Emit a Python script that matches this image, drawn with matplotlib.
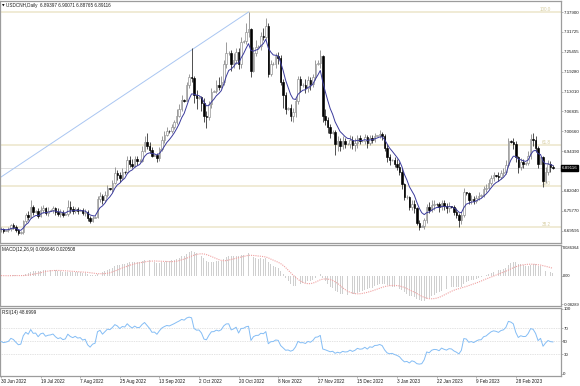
import numpy as np
import pandas as pd
import matplotlib
matplotlib.use('Agg')
import matplotlib.pyplot as plt

plt.rcParams['font.family'] = ['Liberation Sans', 'DejaVu Sans']

# daily bars, Sun-Fri (no Saturday), 30 Jun 2022 .. 17 Mar 2023
closes = [6.700, 6.695,
          6.697, 6.700, 6.712, 6.708, 6.698, 6.688,
          6.690, 6.725, 6.745, 6.738, 6.770, 6.755,
          6.757, 6.742, 6.760, 6.765, 6.752, 6.758,
          6.760, 6.765, 6.755, 6.748, 6.752, 6.745,
          6.748, 6.770, 6.762, 6.758, 6.764, 6.758,
          6.760, 6.752, 6.755, 6.735, 6.725, 6.735,
          6.738, 6.795, 6.805, 6.790, 6.808, 6.828,
          6.826, 6.845, 6.875, 6.870, 6.860, 6.880,
          6.878, 6.915, 6.905, 6.898, 6.918, 6.912,
          6.914, 6.945, 6.972, 6.960, 6.948, 6.930,
          6.932, 6.922, 6.950, 6.978, 6.995, 7.008,
          7.006, 7.020, 7.035, 7.055, 7.075, 7.105,
          7.102, 7.150, 7.175, 7.172, 7.120, 7.110,
          7.112, 7.095, 7.055, 7.050, 7.090, 7.130,
          7.132, 7.150, 7.145, 7.160, 7.215, 7.250,
          7.252, 7.215, 7.230, 7.255, 7.215, 7.285,
          7.288, 7.315, 7.325, 7.195, 7.250, 7.270,
          7.272, 7.305, 7.300, 7.335, 7.185, 7.215,
          7.218, 7.240, 7.235, 7.160, 7.120, 7.075,
          7.078, 7.055, 7.065, 7.100, 7.170, 7.150,
          7.152, 7.140, 7.165, 7.155, 7.175, 7.215,
          7.220, 7.240, 7.055, 7.040, 7.020, 7.000,
          7.005, 6.965, 6.975, 6.960, 6.975, 6.965,
          6.967, 6.980, 6.962, 6.970, 6.985, 6.975,
          6.977, 6.988, 6.970, 6.985, 6.980, 6.992,
          6.993, 6.998, 6.990, 6.955, 6.925, 6.915,
          6.917, 6.905, 6.895, 6.880, 6.840, 6.800,
          6.802, 6.770, 6.780, 6.765, 6.720, 6.708,
          6.710, 6.728, 6.770, 6.760, 6.775, 6.780,
          6.778, 6.768, 6.782, 6.772, 6.765, 6.772,
          6.770, 6.755, 6.745, 6.730, 6.745, 6.815,
          6.812, 6.790, 6.795, 6.788, 6.798, 6.805,
          6.806, 6.825, 6.830, 6.845, 6.860, 6.868,
          6.866, 6.862, 6.875, 6.880, 6.900, 6.975,
          6.972, 6.965, 6.925, 6.895, 6.910, 6.905,
          6.906, 6.930, 6.982, 6.978, 6.955, 6.905,
          6.925, 6.850, 6.880, 6.905, 6.894, 6.89116]

highs = [6.706, 6.705,
         6.699, 6.708, 6.716, 6.718, 6.712, 6.702,
         6.693, 6.730, 6.752, 6.758, 6.790, 6.775,
         6.760, 6.765, 6.772, 6.775, 6.770, 6.768,
         6.762, 6.772, 6.770, 6.765, 6.762, 6.760,
         6.750, 6.790, 6.788, 6.772, 6.770, 6.768,
         6.763, 6.765, 6.762, 6.760, 6.742, 6.742,
         6.740, 6.805, 6.816, 6.810, 6.820, 6.838,
         6.830, 6.855, 6.895, 6.885, 6.880, 6.890,
         6.882, 6.930, 6.928, 6.920, 6.930, 6.928,
         6.918, 6.960, 6.990, 7.000, 6.972, 6.958,
         6.935, 6.938, 6.958, 6.990, 7.008, 7.018,
         7.010, 7.030, 7.042, 7.075, 7.090, 7.120,
         7.108, 7.160, 7.185, 7.268, 7.180, 7.135,
         7.116, 7.115, 7.110, 7.070, 7.100, 7.140,
         7.136, 7.165, 7.175, 7.180, 7.230, 7.285,
         7.256, 7.260, 7.250, 7.265, 7.268, 7.300,
         7.292, 7.345, 7.379, 7.330, 7.270, 7.290,
         7.276, 7.315, 7.330, 7.360, 7.345, 7.230,
         7.222, 7.250, 7.255, 7.245, 7.170, 7.130,
         7.082, 7.090, 7.080, 7.110, 7.180, 7.178,
         7.156, 7.170, 7.180, 7.175, 7.185, 7.230,
         7.228, 7.260, 7.245, 7.075, 7.050, 7.030,
         7.010, 7.010, 6.990, 6.985, 6.990, 6.985,
         6.970, 6.995, 6.990, 6.985, 6.995, 6.995,
         6.980, 6.998, 6.995, 6.995, 6.995, 7.000,
         6.996, 7.010, 7.005, 6.998, 6.965, 6.935,
         6.920, 6.925, 6.920, 6.910, 6.890, 6.845,
         6.806, 6.805, 6.792, 6.790, 6.770, 6.728,
         6.714, 6.735, 6.778, 6.785, 6.790, 6.792,
         6.782, 6.785, 6.790, 6.790, 6.782, 6.785,
         6.774, 6.775, 6.765, 6.752, 6.755, 6.829,
         6.816, 6.815, 6.808, 6.805, 6.808, 6.815,
         6.810, 6.835, 6.842, 6.858, 6.870, 6.880,
         6.870, 6.878, 6.885, 6.890, 6.915, 6.985,
         6.978, 6.985, 6.975, 6.930, 6.922, 6.920,
         6.910, 6.945, 6.998, 7.000, 6.990, 6.960,
         6.930, 6.930, 6.895, 6.915, 6.912, 6.90071]

lows = [6.690, 6.688,
        6.693, 6.690, 6.695, 6.700, 6.692, 6.682,
        6.686, 6.686, 6.718, 6.728, 6.735, 6.745,
        6.752, 6.735, 6.738, 6.750, 6.745, 6.742,
        6.756, 6.750, 6.745, 6.740, 6.738, 6.738,
        6.744, 6.742, 6.752, 6.748, 6.750, 6.748,
        6.756, 6.745, 6.742, 6.725, 6.718, 6.722,
        6.734, 6.735, 6.785, 6.780, 6.785, 6.800,
        6.822, 6.815, 6.840, 6.855, 6.848, 6.855,
        6.874, 6.875, 6.895, 6.890, 6.895, 6.900,
        6.910, 6.910, 6.940, 6.950, 6.938, 6.925,
        6.928, 6.910, 6.912, 6.945, 6.970, 6.990,
        7.002, 7.000, 7.012, 7.030, 7.050, 7.070,
        7.098, 7.100, 7.140, 7.160, 7.095, 7.075,
        7.106, 7.070, 7.035, 7.016, 7.040, 7.080,
        7.128, 7.125, 7.135, 7.140, 7.150, 7.205,
        7.246, 7.195, 7.205, 7.215, 7.200, 7.205,
        7.282, 7.280, 7.300, 7.176, 7.190, 7.240,
        7.266, 7.260, 7.290, 7.295, 7.176, 7.180,
        7.212, 7.205, 7.215, 7.150, 7.080, 7.060,
        7.072, 7.038, 7.035, 7.050, 7.090, 7.130,
        7.146, 7.125, 7.130, 7.135, 7.145, 7.165,
        7.212, 7.205, 7.035, 7.025, 7.000, 6.985,
        6.998, 6.932, 6.945, 6.945, 6.950, 6.955,
        6.963, 6.955, 6.950, 6.945, 6.955, 6.965,
        6.973, 6.965, 6.955, 6.962, 6.968, 6.972,
        6.990, 6.985, 6.978, 6.945, 6.910, 6.902,
        6.912, 6.895, 6.885, 6.870, 6.825, 6.790,
        6.796, 6.760, 6.760, 6.750, 6.712, 6.697,
        6.706, 6.700, 6.720, 6.750, 6.755, 6.760,
        6.774, 6.755, 6.760, 6.760, 6.752, 6.755,
        6.766, 6.745, 6.735, 6.707, 6.715, 6.738,
        6.806, 6.780, 6.780, 6.778, 6.782, 6.790,
        6.802, 6.800, 6.815, 6.825, 6.838, 6.850,
        6.862, 6.852, 6.858, 6.865, 6.872, 6.895,
        6.968, 6.950, 6.910, 6.876, 6.885, 6.890,
        6.902, 6.900, 6.920, 6.960, 6.940, 6.890,
        6.905, 6.832, 6.845, 6.870, 6.880, 6.88765]

date_labels = ['30 Jun 2022', '19 Jul 2022', '7 Aug 2022', '25 Aug 2022',
               '13 Sep 2022', '2 Oct 2022', '20 Oct 2022', '8 Nov 2022',
               '27 Nov 2022', '15 Dec 2022', '3 Jan 2023', '22 Jan 2023',
               '9 Feb 2023', '28 Feb 2023']
bars_per_label = 16

price_ticks = [7.37900, 7.31725, 7.25455, 7.19280, 7.13010, 7.06835, 7.00660,
               6.94390, 6.88215, 6.82040, 6.75770, 6.69595]
fib_low, fib_high = 6.291, 7.379
fib_levels = [100.0, 61.8, 50.0, 38.2]
trend_start = (-1, 6.858)      # (bar, price)
trend_end = (100, 7.379)
last_price = 6.89116
title = 'USDCNH,Daily  6.89397 6.90071 6.88765 6.89116'
macd_label = 'MACD(12,26,9) 0.006646 0.020508'
rsi_label = 'RSI(14) 48.6999'
macd_ticks = [0.086364, 0.0, -0.08289]
macd_tick_labels = ['0.086364', '0.00', '-0.08289']
rsi_ticks = [100, 70, 50, 30, 0]

# ---- indicators ----
c = pd.Series(closes)
opens = np.array([closes[0]] + closes[:-1])
closes_a = c.values
highs_a = np.array(highs)
lows_a = np.array(lows)
n = len(closes)
x = np.arange(n)

ma = c.ewm(span=7, adjust=False).mean()
macd_main = c.ewm(span=12, adjust=False).mean() - c.ewm(span=26, adjust=False).mean()
macd_sig = macd_main.rolling(9, min_periods=1).mean()

# Wilder RSI(14), seeded neutral so the line starts near 50
d = np.diff(closes_a, prepend=closes_a[0])
seed = np.abs(d[1:15]).mean() / 2
ag, al = seed, seed
rsi = np.empty(n)
for i in range(n):
    ag = (ag * 13 + max(d[i], 0)) / 14
    al = (al * 13 + max(-d[i], 0)) / 14
    rsi[i] = 100 - 100 / (1 + ag / al)

# ---- layout (pixel geometry of the 580x386 screenshot) ----
W, H = 580, 386
fig = plt.figure(figsize=(W / 100, H / 100), dpi=100)
right = 561 / W


def axes_px(top, bottom):
    return fig.add_axes([0.0, 1 - bottom / H, right, (bottom - top) / H])


ax = axes_px(1, 243)
ax_m = axes_px(245, 306)
ax_r = axes_px(308, 376)

px_per_bar = 2.475
xlim = (-1 / px_per_bar, 560 / px_per_bar)
FS = 3.3
FS_Y = 3.2
GRID = '#9c9c9c'
TXT = '#1a1a1a'

for a in (ax, ax_m, ax_r):
    a.set_xlim(*xlim)
    a.set_facecolor('white')
    for s in a.spines.values():
        s.set_color(GRID)
        s.set_linewidth(0.9)
    a.yaxis.tick_right()
    a.tick_params(axis='y', length=1.2, width=0.5, pad=0.5, labelsize=FS_Y,
                  color=GRID, labelcolor=TXT)
    a.set_xticks([])

# main price panel
ax.set_ylim(6.6569, 7.4134)
fib_prices = [fib_low + p / 100 * (fib_high - fib_low) for p in fib_levels]
for p, lvl in zip(fib_prices, fib_levels):
    ax.axhline(p, color='#efe9d2', lw=1.3, zorder=1)
    ax.text(xlim[1] - 4, p, f'{lvl:.1f}', color='#d6cda0', fontsize=FS,
            ha='right', va='bottom', zorder=2)
ax.axhline(last_price, color='#d8d8d8', lw=0.6, zorder=1)
ax.plot([trend_start[0], trend_end[0]], [trend_start[1], trend_end[1]],
        color='#a9c6f2', lw=0.7, zorder=2)

up = closes_a >= opens
ax.vlines(x[up], lows_a[up], highs_a[up], color='#8a8a8a', lw=0.6, zorder=3)
ax.vlines(x[~up], lows_a[~up], highs_a[~up], color='#333333', lw=0.6, zorder=3)
ax.bar(x[up], closes_a[up] - opens[up], bottom=opens[up], width=0.62,
       facecolor='white', edgecolor='#8a8a8a', lw=0.45, zorder=4)
ax.bar(x[~up], closes_a[~up] - opens[~up], bottom=opens[~up], width=0.62,
       facecolor='black', edgecolor='black', lw=0.45, zorder=4)
ax.plot(x, ma, color='#3a3a9c', lw=0.7, zorder=5)

ax.set_yticks(price_ticks, [f'{p:.5f}' for p in price_ticks])
ax.text(1.001, last_price, f'{last_price:.5f}', transform=ax.get_yaxis_transform(),
        color='white', fontsize=FS_Y, va='center', ha='left', zorder=10,
        bbox=dict(facecolor='black', edgecolor='black', pad=0.6), clip_on=False)
ax.text(2 / 561, 1 - 3 / 242, '\u25bc', transform=ax.transAxes, fontsize=2.4,
        va='top', ha='left', color='black', family='DejaVu Sans')
ax.text(6 / 561, 1 - 1.5 / 242, title, transform=ax.transAxes, fontsize=FS,
        va='top', ha='left', color=TXT)

# MACD panel
ax_m.set_ylim(-0.0886, 0.0892)
ax_m.bar(x, macd_main, width=0.38, color='#cfcfcf', zorder=2)
ax_m.plot(x, macd_sig, color='#f0a0a0', lw=0.8, ls=(0, (1, 1)), zorder=3)
ax_m.set_yticks(macd_ticks, macd_tick_labels)
ax_m.tick_params(axis='y', labelsize=2.9)
ax_m.get_yticklabels()[0].set_va('top')
ax_m.text(2 / 561, 0.97, macd_label, transform=ax_m.transAxes, fontsize=FS,
          va='top', ha='left', color=TXT)

# RSI panel
ax_r.set_ylim(-3.1, 101.5)
for lvl in (70, 50, 30):
    ax_r.axhline(lvl, color='#c8c8c8', lw=0.5, ls=(0, (1, 1.5)), zorder=1)
ax_r.plot(x, rsi, color='#84bdf5', lw=0.7, zorder=3)
ax_r.set_yticks(rsi_ticks, [str(v) for v in rsi_ticks])
ax_r.text(2 / 561, 0.975, rsi_label, transform=ax_r.transAxes, fontsize=FS,
          va='top', ha='left', color=TXT)

label_pos = np.arange(len(date_labels)) * bars_per_label
ax_r.set_xticks(label_pos, date_labels)
ax_r.tick_params(axis='x', length=1.5, width=0.5, pad=1, labelsize=FS,
                 color=GRID, labelcolor=TXT)
for lab in ax_r.get_xticklabels():
    lab.set_ha('left')

fig.savefig('out.png', dpi=100, facecolor='white')
